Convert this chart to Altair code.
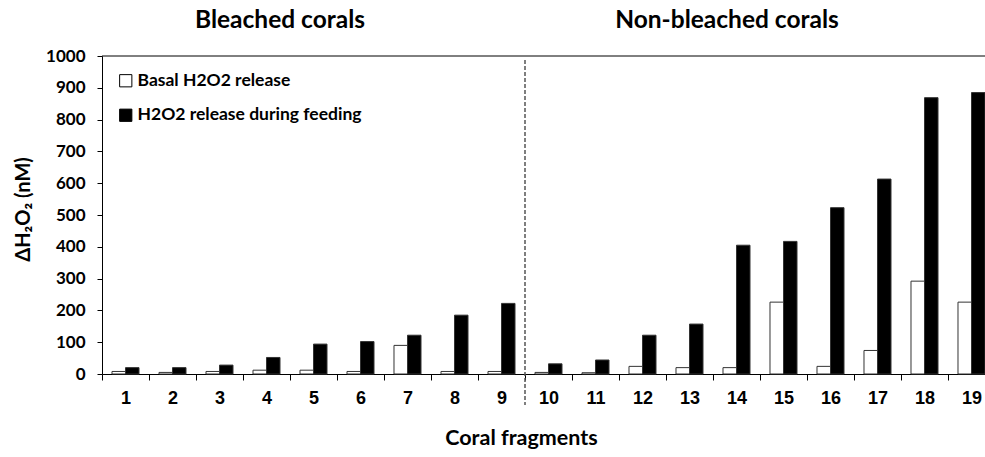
import altair as alt
import pandas as pd

fragments = [str(i) for i in range(1, 20)]
basal = [8, 5, 8, 12, 12, 8, 90, 8, 8, 5, 4, 24, 20, 20, 226, 24, 74, 292, 226]
feeding = [20, 20, 28, 52, 94, 102, 122, 185, 222, 32, 44, 122, 157, 405, 417, 523, 613, 869, 885]
series = ["Basal H2O2 release", "H2O2 release during feeding"]
y_ticks = list(range(0, 1001, 100))

rows = []
for f, b, fe in zip(fragments, basal, feeding):
    rows.append({"fragment": f, "series": series[0], "value": b})
    rows.append({"fragment": f, "series": series[1], "value": fe})
df = pd.DataFrame(rows)

W = 883      # visible plot width (to the window's right edge)
FULL = 893   # full band range (last band is cut by the window)
H = 318

x_scale = alt.Scale(domain=fragments, paddingInner=0, paddingOuter=0, range=[0, FULL])

bars = alt.Chart(df).mark_bar(stroke="#333333", strokeWidth=1).encode(
    x=alt.X("fragment:N", scale=x_scale, sort=fragments,
            axis=alt.Axis(title="Coral fragments", labelAngle=0, tickBand="extent",
                          labelFont="Liberation Sans", labelFontSize=18, labelFontWeight="bold",
                          labelColor="black", labelPadding=9, tickSize=6, tickColor="black",
                          domainColor="black", titleFont="Lato", titleFontSize=21.5,
                          titleFontWeight="bold", titleColor="black", titlePadding=20,
                          titleX=419)),
    xOffset=alt.XOffset("series:N", scale=alt.Scale(domain=series, paddingOuter=0.74, paddingInner=0)),
    y=alt.Y("value:Q", scale=alt.Scale(domain=[0, 1000]),
            axis=alt.Axis(title="ΔH₂O₂ (nM)", values=y_ticks, grid=False, format="d",
                          labelFont="Lato", labelFontSize=17, labelFontWeight="bold",
                          labelColor="black", labelPadding=12, tickSize=5, tickColor="black",
                          domainColor="black", titleFont="Lato", titleFontSize=20,
                          titleFontWeight="bold", titleColor="black", titlePadding=12,
                          titleY=153)),
    fill=alt.Fill("series:N", scale=alt.Scale(domain=series, range=["white", "black"]),
                  legend=alt.Legend(title=None, orient="none", legendX=15, legendY=16,
                                    symbolType="square", symbolSize=150,
                                    symbolStrokeColor="black", symbolStrokeWidth=1,
                                    labelFont="Lato", labelFontSize=17.5, labelFontWeight="bold",
                                    labelColor="black", rowPadding=15.5, labelOffset=3,
                                    labelLimit=0, padding=0)),
)

div_df = pd.DataFrame({"fragment": ["10"]})
divider = alt.Chart(div_df).mark_rule(color="#555555", strokeWidth=1.5, strokeDash=[4, 2]).encode(
    x=alt.X("fragment:N", scale=x_scale, sort=fragments, bandPosition=0),
    y=alt.value(4),
    y2=alt.value(H + 31),
)

top_border = alt.Chart(div_df).mark_rule(color="black", strokeWidth=1).encode(
    x=alt.value(0), x2=alt.value(W), y=alt.value(0),
)

titles_df = pd.DataFrame({"label": ["Bleached corals", "Non-bleached corals"],
                          "px": [178, 625]})
titles = alt.Chart(titles_df).mark_text(font="Lato", fontSize=24.5, fontWeight="bold",
                                         color="black", baseline="alphabetic", align="center").encode(
    x=alt.X("px:Q", scale=None),
    y=alt.value(-28),
    text="label:N",
)

chart = alt.layer(bars, divider, top_border, titles).properties(
    width=W, height=H,
    autosize=alt.AutoSizeParams(type="none"),
    padding={"left": 102, "top": 56, "right": 0, "bottom": 83},
).configure_view(stroke=None)

chart.save("out.html", embed_options={"renderer": "svg", "actions": False})
